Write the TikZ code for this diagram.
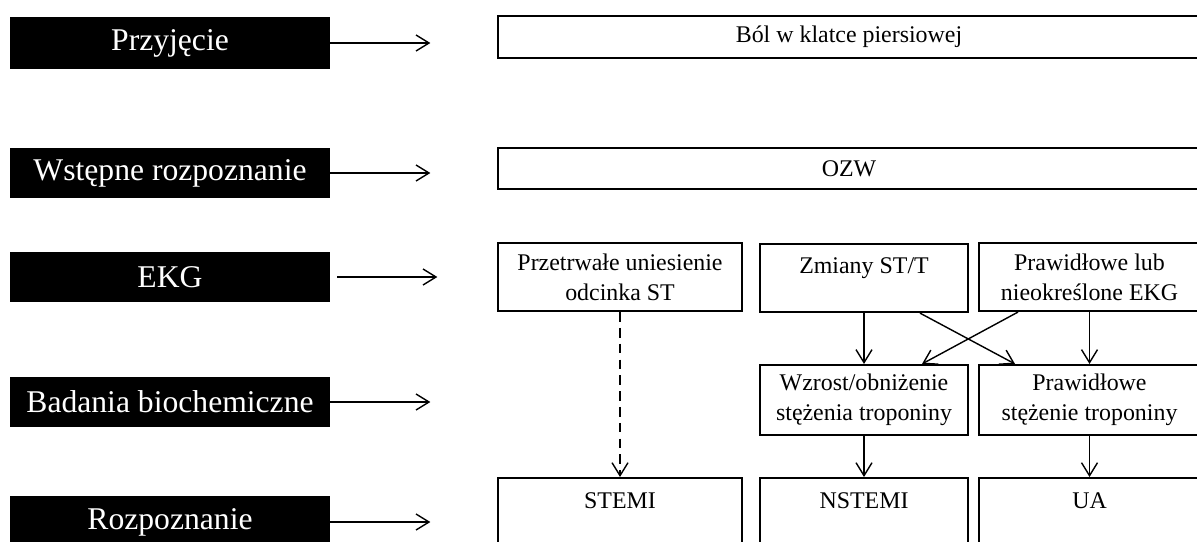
\documentclass[tikz,border=0pt]{standalone}
\usepackage{fontspec}
\setmainfont{Liberation Serif}
\usepackage{tikz}
\usetikzlibrary{arrows.meta}
\tikzstyle{stage} = [rectangle, fill=black, text=white, inner sep=0pt, minimum width=6.4cm, minimum height=1cm, font=\fontsize{18}{21}\selectfont]
\tikzstyle{box} = [rectangle, draw=black, line width=1.2pt, inner sep=0pt, align=center, font=\fontsize{13.6}{17}\selectfont]
\tikzstyle{topbox} = [box, anchor=north, text height=0.58cm]
\tikzstyle{arrow} = [line width=0.8pt, -{Straight Barb[length=2.6mm,width=3.2mm]}]

\begin{document}
\begin{tikzpicture}
      \useasboundingbox (0,0) rectangle (23.94,-10.82);
      \clip (0,0) rectangle (23.94,-10.82);
      % stages on the left
      \node (przyjecie) at (3.4,-0.86)  [stage, minimum height=1.04cm] {Przyjęcie};
      \node (wstepne)   at (3.4,-3.46)  [stage] {Wstępne rozpoznanie};
      \node (ekg)       at (3.4,-5.54)  [stage] {EKG};
      \node (badania)   at (3.4,-8.04)  [stage] {Badania biochemiczne};
      \node (rozpozn)   at (3.4,-10.44) [stage, minimum height=1.04cm] {Rozpoznanie};
      \draw[arrow] (przyjecie.east) -- ([xshift=2cm]przyjecie.east);
      \draw[arrow] (wstepne.east)   -- ([xshift=2cm]wstepne.east);
      \draw[arrow] ([xshift=0.14cm]ekg.east) -- ([xshift=2.14cm]ekg.east);
      \draw[arrow] (badania.east)   -- ([xshift=2cm]badania.east);
      \draw[arrow] (rozpozn.east)   -- ([xshift=2cm]rozpozn.east);
      % boxes on the right
      \node (bol) at (16.98,-0.74) [box, minimum width=14.04cm, minimum height=0.84cm] {Ból w klatce piersiowej};
      \node (ozw) at (16.98,-3.37) [box, minimum width=14.04cm, minimum height=0.82cm] {OZW};
      \node (uniesienie) at (12.4,-5.54) [box, minimum width=4.88cm, minimum height=1.36cm] {Przetrwałe uniesienie\\odcinka ST};
      \node (zmiany) at (17.28,-4.86) [topbox, minimum width=4.16cm, text depth=0.78cm] {Zmiany ST/T};
      \node (prawekg) at (21.79,-5.54) [box, minimum width=4.42cm, minimum height=1.36cm] {Prawidłowe lub\\nieokreślone EKG};
      \node (wzrost) at (17.28,-8.0) [box, minimum width=4.16cm, minimum height=1.4cm] {Wzrost/obniżenie\\stężenia troponiny};
      \node (prawtrop) at (21.79,-8.0) [box, minimum width=4.42cm, minimum height=1.4cm] {Prawidłowe\\stężenie troponiny};
      \node (stemi)  at (12.4,-9.54)  [topbox, minimum width=4.88cm, text height=0.6cm, text depth=0.86cm] {STEMI};
      \node (nstemi) at (17.28,-9.54) [topbox, minimum width=4.16cm, text height=0.6cm, text depth=0.86cm] {NSTEMI};
      \node (ua)     at (21.79,-9.54) [topbox, minimum width=4.42cm, text height=0.6cm, text depth=0.86cm] {UA};
      % connections
      \draw[arrow, dash pattern=on 5.5pt off 3.5pt] (uniesienie.south) -- (stemi.north);
      \draw[arrow] (zmiany.south) -- (wzrost.north);
      \draw[arrow] (prawekg.south) -- (prawtrop.north);
      \draw[arrow] ([xshift=1.12cm]zmiany.south) -- ([xshift=-1.49cm]prawtrop.north);
      \draw[arrow] ([xshift=-1.43cm]prawekg.south) -- ([xshift=1.16cm]wzrost.north);
      \draw[arrow] (wzrost.south) -- (nstemi.north);
      \draw[arrow] (prawtrop.south) -- (ua.north);
    \end{tikzpicture}
\end{document}
